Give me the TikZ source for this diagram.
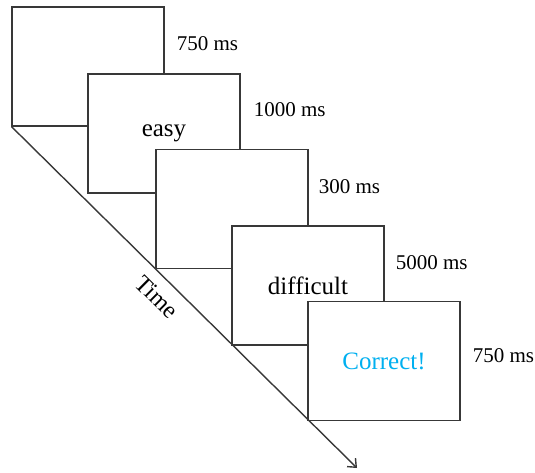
\documentclass[tikz,border=0pt]{standalone}
\usepackage{fontspec}
\setmainfont{Liberation Serif}
\usetikzlibrary{arrows.meta, positioning}
\definecolor{Frame_Gray}{HTML}{383838}
\definecolor{Feedback_Cyan}{HTML}{00B0F0}

\tikzset{
    screen/.style={draw=Frame_Gray, fill=white, line width=1.1pt,
        minimum width=152pt, minimum height=119pt, inner sep=0pt,
        font=\fontsize{25}{30}\selectfont},
    duration/.style={anchor=west, inner sep=0pt, font=\fontsize{21}{25}\selectfont}
}

\begin{document}
\begin{tikzpicture}[x=1pt, y=-1pt]
    \useasboundingbox (0,0) rectangle (535,472);

    % === Screens, each one stacked on the previous (centres in px) ===
    \node[screen] (fix1)  at (88,66.5)  {};
    \node[screen] (cue)   at (164,133.5) {easy};
    \node[screen] (fix2)  at (232,209)  {};
    \node[screen] (task)  at (308,285.5) {difficult};
    \node[screen] (fback) at (384,361)  {\textcolor{Feedback_Cyan}{Correct!}};

    % === Durations next to the upper right corners ===
    \node[duration] (d1) at ([shift={(12,37)}]fix1.north east)  {750 ms};
    \node[duration] (d2) at ([shift={(13,36)}]cue.north east)   {1000 ms};
    \node[duration] (d3) at ([shift={(10,38)}]fix2.north east)  {300 ms};
    \node[duration] (d4) at ([shift={(11,37)}]task.north east)  {5000 ms};
    \node[duration] (d5) at ([shift={(12,55)}]fback.north east) {750 ms};

    % === Time axis through the lower left corners ===
    \coordinate (tend) at (357,468);
    \draw[Frame_Gray, line width=1.4pt, -{Straight Barb[length=7pt,width=12pt]}]
        (fix1.south west) -- node[pos=0.46, sloped, below=7pt, text=black,
        font=\fontsize{24}{28}\selectfont] (tlabel) {Time} (tend);

\end{tikzpicture}
\end{document}
